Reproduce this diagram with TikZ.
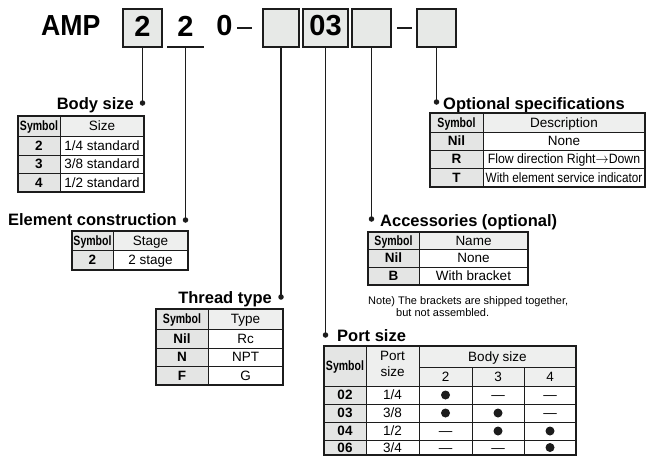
\documentclass[tikz,border=0pt]{standalone}
\usepackage{fontspec}
\setmainfont{Liberation Sans}
\usepackage{graphicx}
\definecolor{boxfill}{HTML}{E7E9E7}
\definecolor{symfill}{HTML}{E4E5E4}
\definecolor{hdrfill}{HTML}{EEEFEE}
\definecolor{ink}{HTML}{1C1C1C}
\tikzset{
  hbox/.style={draw=ink, line width=1.4pt, fill=boxfill, minimum height=38pt, inner sep=0pt},
  hnum/.style={inner sep=0pt, font=\fontsize{29}{29}\selectfont\bfseries},
  minusline/.style={draw=ink, line width=2.6pt},
  uline/.style={draw=ink, line width=1.2pt},
  conn/.style={draw=ink, line width=1.2pt},
  dotm/.style={circle, fill=ink, inner sep=0pt, minimum size=5.5pt},
  ttl/.style={inner sep=0pt, font=\fontsize{16.5}{16.5}\selectfont\bfseries},
  tx/.style={inner sep=0pt, text height=9.7pt, text depth=0pt, font=\fontsize{13.5}{13.5}\selectfont},
  txb/.style={tx, font=\fontsize{13.5}{13.5}\selectfont\bfseries},
  notetx/.style={inner sep=0pt, font=\fontsize{11}{11}\selectfont},
  bul/.style={circle, fill=ink, inner sep=0pt, minimum size=9pt},
  outerb/.style={draw=ink, line width=1.1pt},
  innerb/.style={draw=ink, line width=0.7pt},
}
\newcommand\symb{\scalebox{0.78}[1]{\bfseries Symbol}}
\begin{document}
\begin{tikzpicture}[x=1pt,y=-1pt]
\useasboundingbox (0,0) rectangle (647,456);
% ---------- header ----------
\node[hnum,anchor=west] (amp) at (41,26) {\scalebox{0.92}[1]{AMP}};
\node[hbox,minimum width=39pt] (b1) at (142.5,28) {};
\node[hnum] (t1) at (142.5,26) {2};
\node[hnum] (t2) at (185.5,26) {2};
\coordinate (u2l) at (167,47);
\coordinate (u2r) at (204,47);
\coordinate (u2m) at (185.5,47);
\draw[uline] (u2l) -- (u2r);
\node[hnum] (t0) at (224.5,26) {0};
\coordinate (m1l) at (237,28);
\coordinate (m1r) at (252,28);
\draw[minusline] (m1l) -- (m1r);
\node[hbox,minimum width=36pt] (b3) at (281,28) {};
\node[hbox,minimum width=45pt] (b4) at (325.5,28) {};
\node[hnum] (t4) at (325.5,26) {03};
\node[hbox,minimum width=39pt] (b5) at (371.5,28) {};
\coordinate (m2l) at (397,28);
\coordinate (m2r) at (412,28);
\draw[minusline] (m2l) -- (m2r);
\node[hbox,minimum width=39pt] (b6) at (436.5,28) {};
% ---------- connectors ----------
\node[dotm] (d1) at (142.5,103) {};
\node[dotm] (d2) at (185.5,220) {};
\node[dotm] (d3) at (281,297) {};
\node[dotm] (d4) at (325.5,335) {};
\node[dotm] (d5) at (371.5,219) {};
\node[dotm] (d6) at (436.5,102) {};
\draw[conn] (b1.south) -- (d1.center);
\draw[conn] (u2m) -- (d2.center);
\draw[conn] (b3.south) -- (d3.center);
\draw[conn] (b4.south) -- (d4.center);
\draw[conn] (b5.south) -- (d5.center);
\draw[conn] (b6.south) -- (d6.center);
% ---------- titles ----------
\node[ttl,anchor=base east] (tbs) at (134,109) {Body size};
\node[ttl,anchor=base east] (tec) at (177,225) {Element construction};
\node[ttl,anchor=base east] (ttt) at (272,303) {Thread type};
\node[ttl,anchor=base west] (tps) at (337,341) {Port size};
\node[ttl,anchor=base west] (tac) at (380,226) {Accessories (optional)};
\node[ttl,anchor=base west] (tos) at (443,109) {Optional specifications};
% ---------- Body size table ----------
\fill[hdrfill] (60,116) rectangle (144,136);
\fill[symfill] (18,116) rectangle (60,192);
\draw[innerb] (18,136)--(144,136) (18,155)--(144,155) (18,173)--(144,173) (60,116)--(60,192);
\draw[outerb] (18,116) rectangle (144,192);
\node[tx] (bsh1) at (39,126) {\symb};
\node[tx] (bsh2) at (102,126) {Size};
\node[txb] (bss1) at (39,145.5) {2};
\node[tx] (bsv1) at (102,145.5) {1/4 standard};
\node[txb] (bss2) at (39,164) {3};
\node[tx] (bsv2) at (102,164) {3/8 standard};
\node[txb] (bss3) at (39,182.5) {4};
\node[tx] (bsv3) at (102,182.5) {1/2 standard};
% ---------- Element construction table ----------
\fill[hdrfill] (113,231) rectangle (188,250);
\fill[symfill] (72,231) rectangle (113,270);
\draw[innerb] (72,250)--(188,250) (113,231)--(113,270);
\draw[outerb] (72,231) rectangle (188,270);
\node[tx] (ech1) at (92.5,240.5) {\symb};
\node[tx] (ech2) at (150.5,240.5) {Stage};
\node[txb] (ecs1) at (92.5,260) {2};
\node[tx] (ecv1) at (150.5,260) {2 stage};
% ---------- Thread type table ----------
\fill[hdrfill] (208,309) rectangle (283,329);
\fill[symfill] (156,309) rectangle (208,385);
\draw[innerb] (156,329)--(283,329) (156,348)--(283,348) (156,366)--(283,366) (208,309)--(208,385);
\draw[outerb] (156,309) rectangle (283,385);
\node[tx] (tth1) at (182,319) {\symb};
\node[tx] (tth2) at (245.5,319) {Type};
\node[txb] (tts1) at (182,338.5) {Nil};
\node[tx] (ttv1) at (245.5,338.5) {Rc};
\node[txb] (tts2) at (182,357) {N};
\node[tx] (ttv2) at (245.5,357) {NPT};
\node[txb] (tts3) at (182,375.5) {F};
\node[tx] (ttv3) at (245.5,375.5) {G};
% ---------- Accessories table ----------
\fill[hdrfill] (419,232) rectangle (528,249);
\fill[symfill] (368,232) rectangle (419,285);
\draw[innerb] (368,249)--(528,249) (368,267)--(528,267) (419,232)--(419,285);
\draw[outerb] (368,232) rectangle (528,285);
\node[tx] (ach1) at (393.5,240.5) {\symb};
\node[tx] (ach2) at (473.5,240.5) {Name};
\node[txb] (acs1) at (393.5,258) {Nil};
\node[tx] (acv1) at (473.5,258) {None};
\node[txb] (acs2) at (393.5,276) {B};
\node[tx] (acv2) at (473.5,276) {With bracket};
\node[notetx,anchor=base west] (note1) at (368,304) {Note) The brackets are shipped together,};
\node[notetx,anchor=base west] (note2) at (396,316) {but not assembled.};
% ---------- Port size table ----------
\fill[hdrfill] (366,346) rectangle (576,386);
\fill[symfill] (324,346) rectangle (366,455);
\draw[innerb] (419,367)--(576,367) (324,386)--(576,386) (324,404)--(576,404) (324,422)--(576,422) (324,440)--(576,440)
  (366,346)--(366,455) (419,346)--(419,455) (472,367)--(472,455) (524,367)--(524,455);
\draw[outerb] (324,346) rectangle (576,455);
\node[tx] (psh1) at (345,366) {\symb};
\node[tx] (psh2) at (392.5,355.7) {Port};
\node[tx] (psh3) at (392.5,372) {size};
\node[tx] (psh4) at (497.5,356.5) {Body size};
\node[tx] (psc2) at (445.5,376.5) {2};
\node[tx] (psc3) at (498,376.5) {3};
\node[tx] (psc4) at (550,376.5) {4};
\node[txb] (pss1) at (345,395) {02};
\node[tx] (psv1) at (392.5,395) {1/4};
\node[bul] (p12) at (445.5,395) {};
\node[tx] (p13) at (498,395) {—};
\node[tx] (p14) at (550,395) {—};
\node[txb] (pss2) at (345,413) {03};
\node[tx] (psv2) at (392.5,413) {3/8};
\node[bul] (p22) at (445.5,413) {};
\node[bul] (p23) at (498,413) {};
\node[tx] (p24) at (550,413) {—};
\node[txb] (pss3) at (345,431) {04};
\node[tx] (psv3) at (392.5,431) {1/2};
\node[tx] (p32) at (445.5,431) {—};
\node[bul] (p33) at (498,431) {};
\node[bul] (p34) at (550,431) {};
\node[txb] (pss4) at (345,447.5) {06};
\node[tx] (psv4) at (392.5,447.5) {3/4};
\node[tx] (p42) at (445.5,447.5) {—};
\node[tx] (p43) at (498,447.5) {—};
\node[bul] (p44) at (550,447.5) {};
% ---------- Optional specifications table ----------
\fill[hdrfill] (483,113) rectangle (645,132);
\fill[symfill] (430,113) rectangle (483,187);
\draw[innerb] (430,132)--(645,132) (430,150)--(645,150) (430,168)--(645,168) (483,113)--(483,187);
\draw[outerb] (430,113) rectangle (645,187);
\node[tx] (osh1) at (456.5,122.5) {\symb};
\node[tx] (osh2) at (564,122.5) {Description};
\node[txb] (oss1) at (456.5,141) {Nil};
\node[tx] (osv1) at (564,141) {None};
\node[txb] (oss2) at (456.5,159) {R};
\node[tx] (osv2) at (564,159) {\scalebox{0.91}[1]{Flow direction Right$\rightarrow$Down}};
\node[txb] (oss3) at (456.5,177.5) {T};
\node[tx] (osv3) at (564,177.5) {\scalebox{0.87}[1]{With element service indicator}};
\end{tikzpicture}
\end{document}
